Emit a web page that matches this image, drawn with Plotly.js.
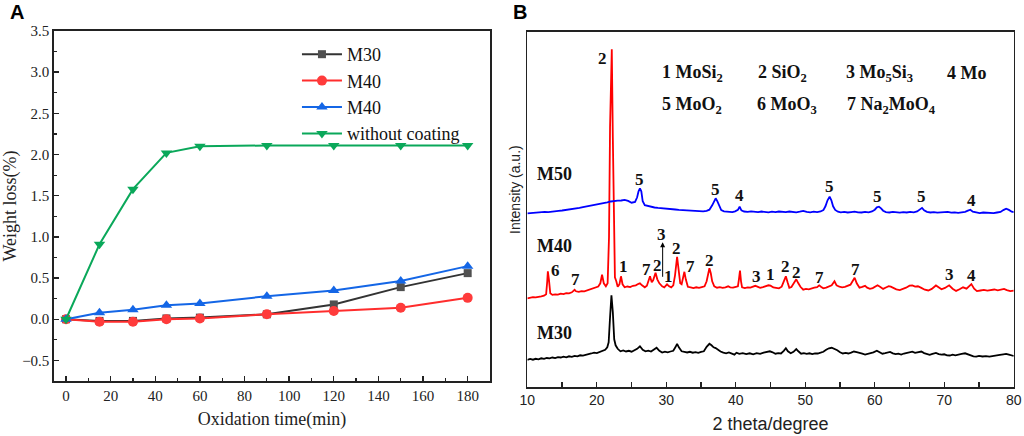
<!DOCTYPE html>
<html>
<head>
<meta charset="utf-8">
<script src="https://cdn.plot.ly/plotly-3.0.1.min.js"></script>
<style>html,body{margin:0;padding:0;background:#fff;}#chart{width:1024px;height:436px;}</style>
</head>
<body>
<div id="chart"></div>
<script>
// ---------- Panel A data ----------
const timeMin = [0, 15, 30, 45, 60, 90, 120, 150, 180];
const lossM30 = [0, -0.02, -0.02, 0.01, 0.02, 0.06, 0.18, 0.39, 0.56];
const lossM40red = [0, -0.03, -0.03, 0.0, 0.01, 0.06, 0.10, 0.14, 0.26];
const lossM40blue = [0, 0.08, 0.115, 0.17, 0.19, 0.28, 0.35, 0.465, 0.645];
const lossNoCoat = [0, 0.91, 1.58, 2.02, 2.10, 2.11, 2.11, 2.11, 2.11];
const namesA = ["M30", "M40", "M40", "without coating"];

// ---------- Panel B data (2theta, intensity a.u.) ----------
const m30TwoTheta = [10.0,10.4,10.8,11.2,11.6,12.0,12.4,12.8,13.2,13.6,14.0,14.4,14.8,15.2,15.6,16.0,16.4,16.8,17.2,17.6,18.0,18.4,18.8,19.2,19.6,20.0,20.4,20.8,21.2,21.5,21.7,21.9,22.1,22.3,22.5,22.7,23.0,23.4,23.8,24.2,24.6,25.0,25.4,25.8,26.2,26.6,27.0,27.4,27.8,28.2,28.6,29.0,29.4,29.8,30.2,30.6,31.0,31.3,31.55,31.8,32.2,32.6,33.0,33.4,33.8,34.2,34.6,35.0,35.4,35.8,36.2,36.5,36.8,37.1,37.4,37.8,38.2,38.6,39.0,39.4,39.8,40.1,40.5,41.0,41.5,42.0,42.5,43.0,43.5,44.0,44.5,44.9,45.3,45.7,46.1,46.5,46.9,47.2,47.5,47.9,48.3,48.7,49.0,49.4,49.8,50.2,50.6,51.0,51.4,51.8,52.2,52.6,53.0,53.4,53.8,54.2,54.6,55.0,55.4,55.8,56.2,56.6,57.0,57.4,57.8,58.2,58.6,59.0,59.4,59.8,60.3,60.7,61.1,61.5,61.9,62.2,62.6,63.0,63.4,63.8,64.2,64.6,65.0,65.4,65.8,66.2,66.7,67.1,67.5,67.9,68.3,68.8,69.2,69.6,70.0,70.4,70.8,71.2,71.6,72.0,72.5,73.0,73.4,73.8,74.2,74.6,75.0,75.5,76.0,76.5,77.0,77.5,78.0,78.5,78.9,79.3,79.7,80.0];
const m30Intensity = [27.5,28.3,27.6,28.5,28.0,29.0,28.4,29.3,29.0,29.8,29.2,30.2,29.8,30.6,30.0,31.0,30.5,31.4,31.0,32.0,31.6,32.6,33.2,33.8,34.6,34.2,35.5,36.5,37.5,40.0,45,70,92,75,48,42,38.5,36,36.8,35.8,36.5,35.6,36.8,38.5,41,37.5,36,36.6,35.8,37.5,39.5,36.5,34.8,35.6,35.0,35.8,36.5,40,43.5,40,36,35.5,34.8,35.5,34.6,35.2,34.5,35.4,36.0,40.5,43.5,42,40,39.2,37.5,35.8,34.6,34.0,34.8,33.8,32.6,34.6,33.5,34.2,33.2,34.0,33.0,34.2,33.5,34.6,35.4,36.0,35.0,33.6,34.2,33.8,36.5,39.0,36.0,34.0,35.5,38.2,36.0,33.6,34.2,33.5,34.0,33.2,34.0,33.8,34.6,35.5,37.5,39.0,39.5,38.5,37.0,35.0,33.8,34.4,33.8,34.6,35.8,35.2,34.0,33.6,32.8,33.6,34.0,35.0,36.6,35.4,33.6,34.2,34.8,35.4,34.0,33.2,33.6,32.8,33.8,34.6,35.2,35.6,34.4,34.8,35.8,34.2,33.0,32.4,33.4,34.4,33.2,32.6,33.0,32.0,31.8,32.6,32.0,32.8,33.4,34.0,32.8,31.6,31.0,30.6,31.4,30.8,31.2,30.6,31.4,31.8,32.4,33.0,33.4,32.6,31.8,31.3];

const m40TwoTheta = [10.0,10.4,10.8,11.2,11.6,12.0,12.4,12.7,12.85,12.95,13.1,13.3,13.6,14.0,14.4,14.8,15.2,15.6,16.0,16.4,16.8,17.0,17.4,17.8,18.2,18.6,19.0,19.4,19.8,20.2,20.5,20.75,21.0,21.3,21.55,21.75,21.9,22.05,22.15,22.3,22.45,22.6,22.8,23.0,23.25,23.47,23.7,24.0,24.4,24.8,25.2,25.6,26.0,26.2,26.5,26.9,27.2,27.45,27.65,27.9,28.1,28.45,28.7,29.0,29.4,29.7,30.1,30.4,30.7,31.0,31.25,31.55,31.8,32.0,32.2,32.4,32.6,32.8,33.1,33.5,33.9,34.3,34.7,35.1,35.5,35.8,36.0,36.2,36.4,36.6,36.9,37.3,37.7,38.1,38.5,38.9,39.2,39.6,40.0,40.3,40.45,40.6,40.75,40.9,41.3,41.7,42.1,42.5,42.8,43.1,43.5,43.9,44.3,44.7,45.0,45.4,45.8,46.2,46.6,46.9,47.2,47.45,47.7,48.0,48.3,48.7,49.0,49.3,49.7,50.1,50.5,50.9,51.3,51.7,52.0,52.3,52.6,53.0,53.4,53.8,54.2,54.5,54.9,55.3,55.7,56.1,56.5,56.8,57.1,57.4,57.8,58.2,58.6,58.9,59.3,59.7,60.0,60.4,60.8,61.2,61.6,62.0,62.3,62.7,63.1,63.6,64.0,64.5,65.0,65.4,65.8,66.2,66.7,67.2,67.7,68.2,68.8,69.2,69.6,70.1,70.7,71.2,71.7,72.2,72.7,73.2,73.5,73.9,74.3,74.7,75.2,75.7,76.2,76.7,77.2,77.7,78.2,78.6,79.0,79.5,80.0];
const m40Intensity = [89,89.6,90.2,90.0,90.8,91.0,91.6,93,105,116,108,94,92.4,93.0,92.6,93.6,93.2,94.2,94.0,95.0,97.5,96,95.4,96.2,96.0,97.0,97.4,98.6,100,100.8,104,112.5,104,101,104,150,260,338,338,250,150,110,106,100.5,103,111,103,100,100.8,100.2,101.5,102,103.5,104,102,100,101.5,106,111,105,107,114.5,108,104,101,100,103,101,100,102,112,130.5,114,104,103,108,115.5,108,100.5,100,99.2,100,99.4,100.2,101,106,113,119,114,106,101,99.6,100.2,99.4,100,101,100,99.6,100.4,101,108,116.6,106,100,99.2,100,99.6,100.8,101.5,100.6,99.4,100.2,100.8,102,101.6,99.8,99.4,99,100.6,105,111,105,99.5,100.2,103,108,104,100.5,97.6,98.4,98.0,99.0,99.6,100.2,102,100.4,99,99.6,101,102,106,102,100.6,100,100.4,101.4,102.6,106,109.5,104,99.6,100.4,101.4,99.6,98.4,99.2,100.8,102,100.4,98.4,99.8,101.2,100.6,99,98.0,97.2,98.2,99.6,101.6,101.8,100.6,101.0,99.4,97.6,96.8,98.4,101.8,100,98,99.4,102,98.6,96.4,98,100,98.6,100.4,103.2,98.6,96.2,96.8,97.4,96.6,97.2,97.8,97.0,97.6,98.4,97.2,96.2,96.6];

const m50TwoTheta = [10.0,10.5,11.0,11.5,12.0,12.5,13.0,13.5,14.0,14.5,15.0,15.5,16.0,16.5,17.0,17.5,18.0,18.5,19.0,19.5,20.0,20.5,21.0,21.5,22.0,22.5,23.0,23.5,24.0,24.5,25.0,25.5,25.8,26.0,26.2,26.4,26.6,26.9,27.3,27.8,28.3,28.8,29.3,29.8,30.3,30.8,31.3,31.8,32.3,32.8,33.3,33.8,34.3,34.8,35.3,35.8,36.2,36.6,36.9,37.1,37.35,37.6,37.9,38.3,38.7,39.1,39.5,39.9,40.3,40.55,40.8,41.2,41.7,42.2,42.7,43.2,43.7,44.2,44.7,45.2,45.7,46.2,46.7,47.2,47.7,48.2,48.7,49.2,49.7,50.2,50.7,51.2,51.7,52.2,52.6,52.9,53.2,53.5,53.75,54.0,54.3,54.7,55.1,55.6,56.1,56.6,57.1,57.6,58.1,58.6,59.1,59.6,60.0,60.3,60.6,60.9,61.2,61.6,62.1,62.6,63.1,63.6,64.1,64.6,65.1,65.6,66.1,66.5,66.8,67.1,67.5,68.0,68.5,69.0,69.5,70.0,70.5,71.0,71.5,72.0,72.5,73.0,73.4,73.75,74.1,74.6,75.1,75.6,76.1,76.6,77.1,77.6,78.1,78.5,78.9,79.3,79.7,80.0];
const m50Intensity = [174,174.4,174.2,174.8,175.0,175.4,175.2,175.8,176.0,176.4,176.8,177.2,177.8,178.4,179.0,179.4,180.2,180.8,181.4,182.2,182.8,183.6,184.4,185.0,185.8,186.4,186.6,186.8,187.4,186.4,184.6,185.4,190,196,199,196,186,182.2,181.4,180.6,179.8,179.4,179.2,178.6,178.4,178.0,177.8,177.4,177.2,176.8,176.6,176.6,176.2,176.4,176.0,176.4,177.6,182,187,189,186,181,177.2,176.0,175.6,175.8,175.2,176.0,177.4,180.6,177.0,175.8,175.4,176.0,175.6,175.2,175.8,175.4,175.0,175.6,175.2,175.8,175.4,175.2,175.8,175.4,175.0,175.6,176.4,175.4,175.0,175.6,175.2,175.8,177.2,181,187,190.6,187,181,177.4,175.6,175.0,175.4,174.8,175.2,175.6,175.0,174.8,175.4,175.0,175.8,177.6,180,180.6,179,176.6,175.2,174.8,175.4,175.0,174.6,175.2,174.8,175.4,175.0,175.8,178.4,179.4,177,175.4,174.8,175.2,174.6,175.0,174.8,175.4,174.6,175.0,174.4,174.8,175.4,176.6,177.6,175.6,174.6,174.2,174.8,174.4,174.6,174.2,174.8,175.4,177.2,178.6,177.4,175.6,175.2];

// peak labels (text, 2theta, intensity)
const peakText = ["2","5","5","4","5","5","5","4","6","7","1","7","2","3","1","2","7","2","3","1","2","2","7","7","3","4"];
const peakX    = [20.84,26.16,37.14,40.54,53.49,60.39,66.72,73.91,14.03,16.9,23.86,27.12,28.75,29.3,30.24,31.53,33.54,36.23,42.94,44.95,47.11,48.79,52.0,57.18,70.75,73.96];
const peakY    = [329,207.3,198,191.3,200.6,190.6,190.6,186.3,116.6,107.3,120.6,118,121.6,152.3,110.6,139,120.6,126.6,110.6,112.3,120.6,114.6,110,118,112.3,111.3];
const sampleText = ["M50","M40","M30"];
const sampleY = [213.3,141.3,54];
const phaseText = ["1 MoSi<sub>2</sub>","2 SiO<sub>2</sub>","3 Mo<sub>5</sub>Si<sub>3</sub>","4 Mo","5 MoO<sub>2</sub>","6 MoO<sub>3</sub>","7 Na<sub>2</sub>MoO<sub>4</sub>"];
const phaseX = [29.13,42.94,55.5,70.12,29.13,42.7,55.7];
const phaseY = [314,314,314,314,281.3,281.3,281.3];

const serif = "Liberation Serif, Times New Roman, serif";
const sans = "Liberation Sans, Arial, sans-serif";

const traces = [
  {x: timeMin, y: lossM30, name: namesA[0], type: "scatter", mode: "lines+markers", xaxis: "x", yaxis: "y",
   line: {color: "#333333", width: 2}, marker: {symbol: "square", size: 8, color: "#505050"}},
  {x: timeMin, y: lossM40red, name: namesA[1], type: "scatter", mode: "lines+markers", xaxis: "x", yaxis: "y",
   line: {color: "#ff2d2d", width: 2}, marker: {symbol: "circle", size: 10, color: "#ff3b3b"}},
  {x: timeMin, y: lossM40blue, name: namesA[2], type: "scatter", mode: "lines+markers", xaxis: "x", yaxis: "y",
   line: {color: "#1466e6", width: 2}, marker: {symbol: "triangle-up", size: 10, color: "#1466e6"}},
  {x: timeMin, y: lossNoCoat, name: namesA[3], type: "scatter", mode: "lines+markers", xaxis: "x", yaxis: "y",
   line: {color: "#0aa85a", width: 2}, marker: {symbol: "triangle-down", size: 10, color: "#0aa85a"}},
  {x: m30TwoTheta, y: m30Intensity, name: "M30 XRD", type: "scatter", mode: "lines", xaxis: "x2", yaxis: "y2",
   line: {color: "#000000", width: 1.8}, showlegend: false},
  {x: m40TwoTheta, y: m40Intensity, name: "M40 XRD", type: "scatter", mode: "lines", xaxis: "x2", yaxis: "y2",
   line: {color: "#ff0000", width: 1.8}, showlegend: false},
  {x: m50TwoTheta, y: m50Intensity, name: "M50 XRD", type: "scatter", mode: "lines", xaxis: "x2", yaxis: "y2",
   line: {color: "#0000ff", width: 1.8}, showlegend: false}
];

const annotations = [];
annotations.push({xref: "paper", yref: "paper", x: 8/1024, y: 1 - 12/436, xanchor: "left", yanchor: "middle",
  text: "<b>A</b>", showarrow: false, font: {family: sans, size: 20, color: "#000"}});
annotations.push({xref: "paper", yref: "paper", x: 511/1024, y: 1 - 12/436, xanchor: "left", yanchor: "middle",
  text: "<b>B</b>", showarrow: false, font: {family: sans, size: 20, color: "#000"}});
annotations.push({xref: "paper", yref: "paper", x: 515/1024, y: 1 - 190/436, xanchor: "center", yanchor: "middle",
  text: "Intensity (a.u.)", textangle: -90, showarrow: false, font: {family: sans, size: 14, color: "#222"}});
for (let i = 0; i < peakText.length; i++) {
  annotations.push({xref: "x2", yref: "y2", x: peakX[i], y: peakY[i], text: "<b>" + peakText[i] + "</b>",
    showarrow: false, xanchor: "center", yanchor: "middle", font: {family: serif, size: 17, color: "#111"}});
}
for (let i = 0; i < sampleText.length; i++) {
  annotations.push({xref: "x2", yref: "y2", x: 13.94, y: sampleY[i], text: "<b>" + sampleText[i] + "</b>",
    showarrow: false, xanchor: "center", yanchor: "middle", font: {family: serif, size: 18, color: "#111"}});
}
for (let i = 0; i < phaseText.length; i++) {
  annotations.push({xref: "x2", yref: "y2", x: phaseX[i], y: phaseY[i], text: "<b>" + phaseText[i] + "</b>",
    showarrow: false, xanchor: "left", yanchor: "middle", font: {family: serif, size: 18, color: "#111"}});
}
// arrow for peak 3
annotations.push({xref: "x2", yref: "y2", x: 29.47, y: 145, axref: "x2", ayref: "y2", ax: 29.47, ay: 109,
  text: "", showarrow: true, arrowhead: 2, arrowsize: 1, arrowwidth: 1, arrowcolor: "#000"});

const layout = {
  width: 1024, height: 436,
  margin: {l: 0, r: 0, t: 0, b: 0},
  paper_bgcolor: "#fff", plot_bgcolor: "#fff",
  showlegend: true,
  legend: {x: 0.29, y: 1 - 36/436, xanchor: "left", yanchor: "top", bgcolor: "rgba(0,0,0,0)",
    font: {family: serif, size: 18, color: "#111"}, itemwidth: 40, tracegroupgap: 0},
  xaxis: {domain: [0.0527, 0.4785], range: [-5.4, 190], anchor: "y",
    showline: true, linecolor: "#222", linewidth: 1.6, mirror: true, showgrid: false, zeroline: false,
    ticks: "inside", ticklen: 5, tickwidth: 1.4, tickcolor: "#222", tick0: 0, dtick: 20,
    minor: {dtick: 10, ticks: "inside", ticklen: 3, tickwidth: 1.2, tickcolor: "#222"},
    tickfont: {family: serif, size: 15, color: "#222"},
    title: {text: "Oxidation time(min)", font: {family: serif, size: 18, color: "#222"}, standoff: 10}},
  yaxis: {domain: [0.1261, 0.9289], range: [-0.75, 3.5], anchor: "x",
    showline: true, linecolor: "#222", linewidth: 1.6, mirror: true, showgrid: false, zeroline: false,
    ticks: "inside", ticklen: 5, tickwidth: 1.4, tickcolor: "#222", tick0: 0, dtick: 0.5, tickformat: ".1f",
    minor: {dtick: 0.25, ticks: "inside", ticklen: 3, tickwidth: 1.2, tickcolor: "#222"},
    tickfont: {family: serif, size: 15, color: "#222"},
    title: {text: "Weight loss(%)", font: {family: serif, size: 18, color: "#222"}, standoff: 8}},
  xaxis2: {domain: [0.515, 0.990], range: [10, 80], anchor: "y2",
    showline: true, linecolor: "#222", linewidth: 1.3, mirror: true, showgrid: false, zeroline: false,
    ticks: "inside", ticklen: 5, tickwidth: 1.2, tickcolor: "#222", tick0: 10, dtick: 10,
    minor: {dtick: 5, ticks: "inside", ticklen: 5, tickwidth: 1.2, tickcolor: "#222"},
    tickfont: {family: sans, size: 14, color: "#222"},
    title: {text: "2 theta/degree", font: {family: sans, size: 18, color: "#222"}, standoff: 10}},
  yaxis2: {domain: [0.1117, 0.9273], range: [0, 355.6], anchor: "x2",
    showline: true, linecolor: "#222", linewidth: 1.3, mirror: true, showgrid: false, zeroline: false,
    ticks: "", showticklabels: false},
  annotations: annotations
};

Plotly.newPlot("chart", traces, layout, {displayModeBar: false, staticPlot: true});
</script>
</body>
</html>
